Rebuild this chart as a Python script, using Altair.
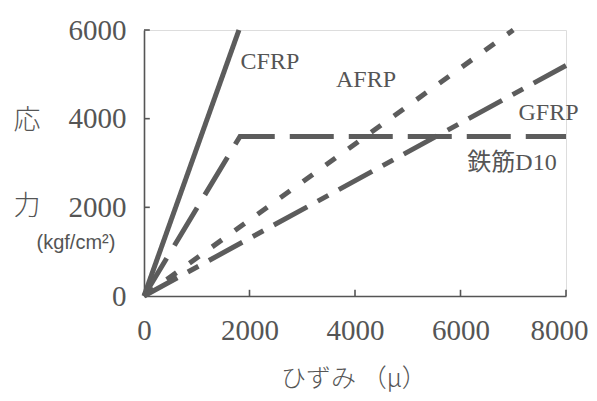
import altair as alt
import pandas as pd

# ---- data ----
cfrp_strain = [0, 1800]
cfrp_stress = [0, 6000]
steel_strain = [0, 1820, 8000]
steel_stress = [0, 3600, 3600]
afrp_strain = [0, 7000]
afrp_stress = [0, 6000]
gfrp_strain = [0, 8000]
gfrp_stress = [0, 5200]

series_names = ["CFRP", "鉄筋D10", "AFRP", "GFRP"]
x_ticks = [0, 2000, 4000, 6000, 8000]
y_ticks = [0, 2000, 4000, 6000]

label_text = ["CFRP", "AFRP", "GFRP", "鉄筋D10"]
label_strain = [1830, 3640, 7100, 6130]
label_stress = [5270, 4880, 4130, 3000]

ytitle_text = ["応", "力"]
ytitle_strain = [-2220, -2220]
ytitle_stress = [3940, 2010]
unit_text = ["(kgf/cm²)"]
unit_strain = [-1290]
unit_stress = [1190]
xtitle_text = ["ひずみ （μ）"]
xtitle_strain = [3980]
xtitle_stress = [-1880]

GRAY = "#555555"
LINE = "#5c5c5c"
SERIF = "Liberation Serif"

rows = []
for name, xv, yv in [
    ("CFRP", cfrp_strain, cfrp_stress),
    ("鉄筋D10", steel_strain, steel_stress),
    ("AFRP", afrp_strain, afrp_stress),
    ("GFRP", gfrp_strain, gfrp_stress),
]:
    for i, (a, b) in enumerate(zip(xv, yv)):
        rows.append({"series": name, "strain": a, "stress": b, "order": i})
lines_df = pd.DataFrame(rows)

xs = alt.Scale(domain=[0, 8000], nice=False, zero=False)
ys = alt.Scale(domain=[0, 6000], nice=False, zero=False)

x_axis = alt.Axis(values=x_ticks, title=None, ticks=False, grid=False,
                  labelFont=SERIF, labelFontSize=29, labelColor=GRAY,
                  labelPadding=20, domainColor=GRAY, domainWidth=1.6,
                  labelFlush=False, format="d",
                  labelOffset={"condition": {"test": "datum.value == 8000", "value": -7},
                               "value": 0})
y_axis = alt.Axis(values=y_ticks, title=None, ticks=False, grid=False,
                  labelFont=SERIF, labelFontSize=29, labelColor=GRAY,
                  labelPadding=18, domainColor=GRAY, domainWidth=1.6,
                  labelFlush=False, labelBaseline="middle", format="d")


def X(field="strain"):
    return alt.X(field + ":Q", scale=xs, axis=x_axis)


def Y(field="stress"):
    return alt.Y(field + ":Q", scale=ys, axis=y_axis)


lines = alt.Chart(lines_df).mark_line(strokeWidth=5, strokeCap="butt", color=LINE).encode(
    x=X(), y=Y(),
    detail="series:N",
    order="order:Q",
    strokeDash=alt.StrokeDash(
        "series:N",
        scale=alt.Scale(domain=series_names,
                        range=[[1, 0], [44, 15], [12, 16], [38, 12, 12, 12]]),
        legend=None,
    ),
)

# inward ticks
xt_df = pd.DataFrame({"strain": x_ticks[1:], "stress": [0] * 4, "stress2": [140] * 4})
yt_df = pd.DataFrame({"strain": [0] * 3, "strain2": [110] * 3, "stress": y_ticks[1:]})
xticks = alt.Chart(xt_df).mark_rule(color=GRAY, strokeWidth=1.6).encode(
    x=X(), y=Y(), y2="stress2:Q")
yticks = alt.Chart(yt_df).mark_rule(color=GRAY, strokeWidth=1.6).encode(
    x=X(), x2="strain2:Q", y=Y())

lab_df = pd.DataFrame({"text": label_text, "strain": label_strain, "stress": label_stress})
labels = alt.Chart(lab_df).mark_text(
    font="Liberation Serif, 'Noto Sans CJK JP'", fontSize=24, color=GRAY,
    align="left", baseline="middle").encode(x=X(), y=Y(), text="text:N")

yt_text_df = pd.DataFrame({"text": ytitle_text, "strain": ytitle_strain, "stress": ytitle_stress})
ytitle = alt.Chart(yt_text_df).mark_text(
    font="Noto Sans CJK JP", fontSize=27, color=GRAY, align="center",
    baseline="middle", fontWeight=300).encode(x=X(), y=Y(), text="text:N")

unit_df = pd.DataFrame({"text": unit_text, "strain": unit_strain, "stress": unit_stress})
unit = alt.Chart(unit_df).mark_text(
    font="Liberation Sans", fontSize=20, color=GRAY, align="center",
    baseline="middle").encode(x=X(), y=Y(), text="text:N")

xt2_df = pd.DataFrame({"text": xtitle_text, "strain": xtitle_strain, "stress": xtitle_stress})
xtitle = alt.Chart(xt2_df).mark_text(
    font="Noto Sans CJK JP", fontSize=25, color=GRAY, align="center",
    baseline="middle", fontWeight=300).encode(x=X(), y=Y(), text="text:N")

chart = alt.layer(lines, xticks, yticks, labels, ytitle, unit, xtitle).properties(
    width=422, height=266,
    autosize=alt.AutoSizeParams(type="none"),
    padding={"left": 136, "top": 22, "right": 23, "bottom": 97},
).configure_view(stroke=None).configure(background="white").configure_axis(
    labelFont=SERIF, labelFontSize=29, labelColor=GRAY
)

chart.save("out.html", embed_options={"renderer": "svg", "actions": False})
